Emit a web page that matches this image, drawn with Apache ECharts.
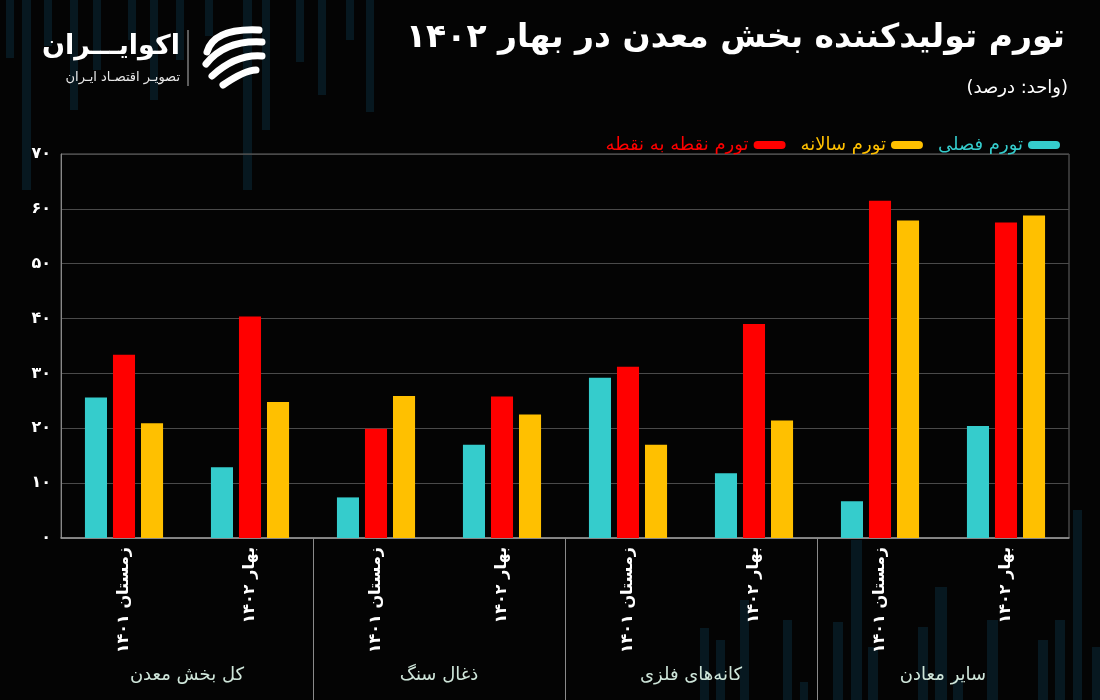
<!DOCTYPE html>
<html><head><meta charset="utf-8">
<script src="https://cdn.jsdelivr.net/npm/echarts@6/dist/echarts.min.js"></script>
<style>html,body{margin:0;padding:0;background:#040404;}#chart{width:1100px;height:700px;direction:rtl;}</style>
</head><body><div id="chart" dir="rtl"></div>
<script>
// ---- data ----
const categories = ['زمستان ۱۴۰۱','بهار ۱۴۰۲','زمستان ۱۴۰۱','بهار ۱۴۰۲','زمستان ۱۴۰۱','بهار ۱۴۰۲','زمستان ۱۴۰۱','بهار ۱۴۰۲'];
const groups = ['کل بخش معدن','ذغال سنگ','کانه‌های فلزی','سایر معادن'];
const seriesNames = ['تورم فصلی','تورم نقطه به نقطه','تورم سالانه'];
const seasonal = [25.6, 12.9, 7.4, 17.0, 29.2, 11.8, 6.7, 20.4];
const pointToPoint = [33.4, 40.4, 19.9, 25.8, 31.2, 39.0, 61.5, 57.5];
const annual = [20.9, 24.8, 25.9, 22.5, 17.0, 21.4, 57.9, 58.8];
const yTicks = [0, 10, 20, 30, 40, 50, 60, 70];
const yTickLabels = ['۰','۱۰','۲۰','۳۰','۴۰','۵۰','۶۰','۷۰'];
const titleText = 'تورم تولیدکننده بخش معدن در بهار ۱۴۰۲';
const unitText = '(واحد: درصد)';
const brandName = 'اکوایـــران';
const brandSub = 'تصویـر اقتصـاد ایـران';

// ---- styles ----
const FONT = 'DejaVu Sans';
const colors = {cyan:'#35CCCC', red:'#FF0000', yellow:'#FFC000'};

// decorative faint background stripes [x, y, w, h]
const decor = [
  [6,0,8,58],[22,0,9,190],[44,0,8,46],[70,0,8,110],[93,0,8,70],[128,0,8,40],[150,0,8,100],
  [176,0,8,60],[205,0,8,36],[243,0,9,190],[262,0,8,130],[296,0,8,62],[318,0,8,95],[346,0,8,40],[366,0,8,112],
  [700,628,9,72],[716,640,9,60],[740,600,9,100],[783,620,9,80],[800,682,8,18],[833,622,10,78],[851,540,11,160],
  [868,647,10,53],[918,627,10,73],[935,587,12,113],[953,680,10,20],[987,620,11,80],[1038,640,10,60],
  [1055,620,10,80],[1073,510,9,190],[1092,647,8,53]
];
const decorGraphics = decor.map(d => ({type:'rect', silent:true, z:-10, shape:{x:d[0], y:d[1], width:d[2], height:d[3]}, style:{fill:'#071820'}}));

const logo = [
  {type:'line', shape:{x1:188,y1:30,x2:188,y2:86}, style:{stroke:'#9a9a9a', lineWidth:1.2}},
  {type:'bezierCurve', shape:{x1:207,y1:52,cpx1:214,cpy1:28,x2:259,y2:30}, style:{stroke:'#fff', lineWidth:7, lineCap:'round', fill:null}},
  {type:'bezierCurve', shape:{x1:206,y1:64,cpx1:225,cpy1:40,x2:262,y2:42}, style:{stroke:'#fff', lineWidth:7, lineCap:'round', fill:null}},
  {type:'bezierCurve', shape:{x1:212,y1:76,cpx1:236,cpy1:54,x2:262,y2:56}, style:{stroke:'#fff', lineWidth:7, lineCap:'round', fill:null}},
  {type:'bezierCurve', shape:{x1:223,y1:85,cpx1:245,cpy1:70,x2:256,y2:70}, style:{stroke:'#fff', lineWidth:7, lineCap:'round', fill:null}}
];

const chart = echarts.init(document.getElementById('chart'), null, {renderer:'canvas'});
chart.setOption({
  backgroundColor:'#040404',
  textStyle:{fontFamily:FONT},
  animation:false,
  title:[
    {text:titleText, right:35, top:22, padding:0, textStyle:{color:'#fff', fontSize:33, fontWeight:'bold', fontFamily:FONT}},
    {text:unitText, right:32, top:79, padding:0, textStyle:{color:'#fff', fontSize:18, fontWeight:'normal', fontFamily:FONT}},
    {text:brandName, right:920, top:33, padding:0, textStyle:{color:'#fff', fontSize:27, fontWeight:'bold', fontFamily:FONT}},
    {text:brandSub, right:920, top:71, padding:0, textStyle:{color:'#e8e8e8', fontSize:13, fontWeight:'normal', fontFamily:FONT}}
  ],
  graphic: decorGraphics.concat(logo),
  legend:{
    right:35, top:131, align:'right', itemGap:15, itemWidth:32, itemHeight:8,
    icon:'path://M4,0 H28 A4,4 0 0 1 28,8 H4 A4,4 0 0 1 4,0 Z',
    textStyle:{fontSize:18, fontFamily:FONT},
    data:[
      {name:seriesNames[1], textStyle:{color:colors.red}},
      {name:seriesNames[2], textStyle:{color:colors.yellow}},
      {name:seriesNames[0], textStyle:{color:colors.cyan}}
    ]
  },
  grid:{left:61, right:31, top:154, bottom:162, show:true, borderColor:'#666', borderWidth:1, backgroundColor:'transparent', containLabel:false},
  xAxis:[
    {type:'category', data:categories,
     axisLine:{lineStyle:{color:'#9a9a9a', width:1.5}},
     axisTick:{show:false},
     axisLabel:{interval:0, rotate:90, margin:9, color:'#fff', fontSize:16, fontWeight:'bold', fontFamily:FONT}},
    {type:'value', min:0, max:8, position:'bottom',
     axisLine:{show:false}, splitLine:{show:false},
     axisTick:{show:true, customValues:[2,4,6], length:162, lineStyle:{color:'#8a8a8a', width:1}},
     axisLabel:{customValues:[1,3,5,7], margin:128, color:'#cfe6da', fontSize:18, fontFamily:FONT,
       formatter:v => groups[Math.round((v-1)/2)]}}
  ],
  yAxis:{type:'value', min:0, max:70, interval:10,
    axisLine:{show:true, lineStyle:{color:'#888'}},
    axisTick:{show:false},
    splitLine:{lineStyle:{color:'#4a4a4a', width:1}},
    axisLabel:{margin:10, color:'#fff', fontSize:16, fontWeight:'bold', fontFamily:FONT,
      formatter:v => yTickLabels[yTicks.indexOf(v)]}},
  series:[
    {name:seriesNames[0], type:'bar', data:seasonal, itemStyle:{color:colors.cyan}, barGap:'27%', barCategoryGap:'38%'},
    {name:seriesNames[1], type:'bar', data:pointToPoint, itemStyle:{color:colors.red}},
    {name:seriesNames[2], type:'bar', data:annual, itemStyle:{color:colors.yellow}}
  ]
});
</script></body></html>
